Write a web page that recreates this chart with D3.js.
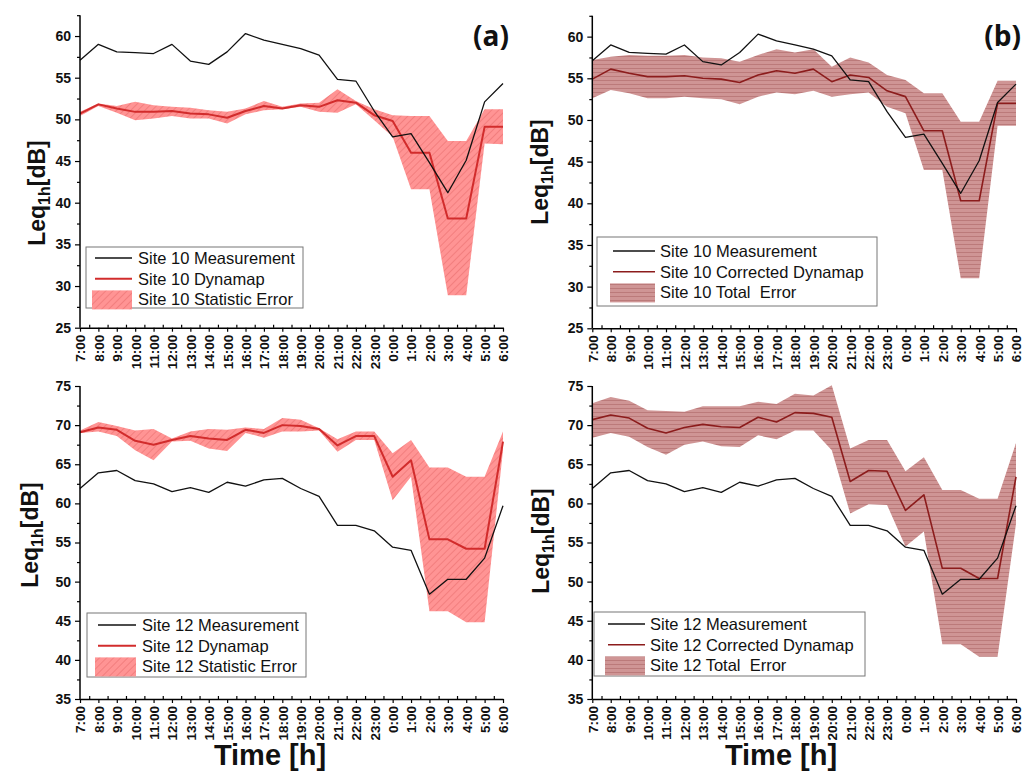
<!DOCTYPE html>
<html>
<head>
<meta charset="utf-8">
<script src="https://cdn.jsdelivr.net/npm/d3@7"></script>
<style>
  body { margin: 0; background: #fff; }
  svg { display: block; font-family: "Liberation Sans", Arial, sans-serif; }
</style>
</head>
<body>
<svg id="chart" width="1033" height="771"></svg>
<script>
// hours of the day, 7:00 -> 6:00 next morning
const hours = ["7:00","8:00","9:00","10:00","11:00","12:00","13:00","14:00","15:00","16:00","17:00","18:00",
  "19:00","20:00","21:00","22:00","23:00","0:00","1:00","2:00","3:00","4:00","5:00","6:00"]

// site 10
const site10Measured  = [57.1, 59.0, 58.1, 58.0, 57.9, 59.0, 57.0, 56.6, 58.1, 60.3, 59.5, 59.0, 58.5, 57.7, 54.8, 54.6, 51.0, 47.9, 48.3, 44.8, 41.2, 45.1, 52.1, 54.3]
const site10Dynamap   = [50.7, 51.8, 51.3, 50.9, 50.9, 51.0, 50.7, 50.6, 50.2, 51.0, 51.6, 51.3, 51.7, 51.5, 52.3, 52.0, 50.5, 49.8, 46.0, 46.0, 38.1, 38.1, 49.1, 49.1]
const site10StatLow   = [50.4, 51.6, 50.8, 49.9, 50.1, 50.4, 50.1, 50.1, 49.5, 50.6, 51.1, 51.2, 51.5, 50.9, 50.8, 51.8, 49.9, 47.9, 41.6, 41.6, 28.9, 28.9, 47.1, 47.0]
const site10StatHigh  = [50.9, 51.9, 51.6, 52.1, 51.7, 51.5, 51.4, 51.1, 50.9, 51.3, 52.2, 51.5, 51.9, 52.0, 53.6, 52.2, 51.2, 50.5, 50.4, 50.4, 47.4, 47.4, 51.2, 51.2]
const site10Corrected = [54.9, 56.1, 55.6, 55.2, 55.2, 55.3, 55.0, 54.9, 54.5, 55.4, 55.9, 55.6, 56.1, 54.6, 55.4, 55.1, 53.5, 52.8, 48.7, 48.7, 40.3, 40.3, 52.0, 52.0]
const site10TotalLow  = [52.6, 53.6, 53.2, 52.6, 52.6, 52.8, 52.6, 52.5, 51.9, 52.8, 53.3, 53.1, 53.5, 52.8, 53.1, 53.3, 51.6, 50.8, 44.0, 44.0, 31.0, 31.0, 49.3, 49.3]
const site10TotalHigh = [57.2, 57.6, 57.8, 57.7, 57.7, 57.8, 57.5, 57.4, 57.0, 57.8, 58.5, 58.1, 58.5, 56.4, 57.5, 56.9, 55.4, 54.8, 53.2, 53.2, 49.8, 49.8, 54.7, 54.7]

// site 12
const site12Measured  = [61.9, 63.9, 64.2, 62.9, 62.5, 61.5, 62.0, 61.4, 62.7, 62.2, 63.0, 63.2, 61.9, 60.9, 57.2, 57.2, 56.5, 54.4, 54.0, 48.4, 50.3, 50.3, 53.0, 59.7]
const site12Dynamap   = [69.1, 69.7, 69.4, 68.0, 67.5, 68.1, 68.6, 68.3, 68.1, 69.4, 69.0, 70.0, 69.9, 69.5, 67.4, 68.6, 68.6, 63.4, 65.5, 55.4, 55.4, 54.2, 54.2, 67.9]
const site12StatLow   = [69.0, 69.2, 68.6, 66.8, 65.5, 67.9, 68.0, 67.0, 66.7, 69.0, 68.4, 69.2, 69.2, 69.3, 66.6, 68.1, 68.1, 60.4, 63.4, 46.2, 46.2, 44.8, 44.8, 66.8]
const site12StatHigh  = [69.3, 70.4, 69.9, 69.3, 69.5, 68.3, 69.2, 69.5, 69.4, 69.7, 69.5, 70.9, 70.7, 69.6, 68.2, 69.2, 69.2, 66.4, 68.1, 64.6, 64.6, 63.4, 63.4, 69.2]
const site12Corrected = [70.7, 71.3, 70.9, 69.6, 69.0, 69.7, 70.1, 69.8, 69.7, 71.0, 70.4, 71.6, 71.5, 71.0, 62.8, 64.2, 64.1, 59.1, 61.1, 51.7, 51.7, 50.4, 50.4, 63.4]
const site12TotalLow  = [68.4, 69.0, 68.5, 67.2, 66.2, 67.5, 67.9, 67.3, 67.2, 68.7, 68.2, 69.3, 69.3, 66.8, 58.7, 59.9, 59.8, 54.5, 56.4, 42.0, 42.0, 40.4, 40.4, 57.4]
const site12TotalHigh = [72.8, 73.6, 73.1, 71.9, 71.8, 71.7, 72.4, 72.4, 72.4, 73.0, 72.7, 74.0, 73.8, 75.1, 67.0, 68.1, 68.1, 64.1, 65.9, 61.7, 61.7, 60.6, 60.6, 67.7]

const topTicks = [25, 30, 35, 40, 45, 50, 55, 60]
const bottomTicks = [35, 40, 45, 50, 55, 60, 65, 70, 75]

const svg = d3.select('#chart')
const defs = svg.append('defs')

// diagonal hatch for the statistic error (faint lines)
const statPat = defs.append('pattern')
  .attr('id', 'statHatch')
  .attr('patternUnits', 'userSpaceOnUse')
  .attr('width', 5).attr('height', 5)
  .attr('patternTransform', 'rotate(45)')
statPat.append('rect').attr('width', 5).attr('height', 5).attr('fill', '#ff9494')
statPat.append('line').attr('x1', 0.5).attr('y1', 0).attr('x2', 0.5).attr('y2', 5)
  .attr('stroke', '#f27e7e').attr('stroke-width', 1)

// horizontal lines for the total error
const totPat = defs.append('pattern')
  .attr('id', 'totHatch')
  .attr('patternUnits', 'userSpaceOnUse')
  .attr('width', 4).attr('height', 4)
totPat.append('rect').attr('width', 4).attr('height', 4).attr('fill', '#cf9595')
totPat.append('line').attr('x1', 0).attr('y1', 0.5).attr('x2', 4).attr('y2', 0.5)
  .attr('stroke', '#bb7a7a').attr('stroke-width', 1)

const panels = [
  { tag: '(a)', x0: 80, x1: 503, yr: [327.7, 15.2], dom: [25, 62.5], ticks: topTicks, site: 'Site 10',
    meas: site10Measured, model: site10Dynamap, low: site10StatLow, high: site10StatHigh,
    modelName: 'Dynamap', errName: 'Statistic Error', lineColor: '#d22c2c', lineW: 2, fill: 'url(#statHatch)',
    legend: [86, 247, 217, 61], lgLine: [95, 132], lgText: 138, lgBase: 264,
    label: [37, 193], tagPos: [509, 46] },
  { tag: '(b)', x0: 592.3, x1: 1016, yr: [328.3, 15.8], dom: [25, 62.5], ticks: topTicks, site: 'Site 10',
    meas: site10Measured, model: site10Corrected, low: site10TotalLow, high: site10TotalHigh,
    modelName: 'Corrected Dynamap', errName: 'Total  Error', lineColor: '#8c1c1c', lineW: 1.6, fill: 'url(#totHatch)',
    legend: [597, 237, 280, 69], lgLine: [613, 655], lgText: 660, lgBase: 257,
    label: [540, 172], tagPos: [1021, 46] },
  { tag: null, x0: 80, x1: 503, yr: [699, 386], dom: [35, 75], ticks: bottomTicks, site: 'Site 12',
    meas: site12Measured, model: site12Dynamap, low: site12StatLow, high: site12StatHigh,
    modelName: 'Dynamap', errName: 'Statistic Error', lineColor: '#d22c2c', lineW: 2, fill: 'url(#statHatch)',
    legend: [87, 613, 219, 64], lgLine: [98, 136], lgText: 142, lgBase: 631,
    label: [30, 535] },
  { tag: null, x0: 592.3, x1: 1016, yr: [699, 386], dom: [35, 75], ticks: bottomTicks, site: 'Site 12',
    meas: site12Measured, model: site12Corrected, low: site12TotalLow, high: site12TotalHigh,
    modelName: 'Corrected Dynamap', errName: 'Total  Error', lineColor: '#8c1c1c', lineW: 1.6, fill: 'url(#totHatch)',
    legend: [594, 612, 271, 64], lgLine: [608, 645], lgText: 650, lgBase: 630,
    label: [541, 541] }
]

panels.forEach(p => {
  const g = svg.append('g')
  const x = d3.scaleLinear().domain([0, hours.length - 1]).range([p.x0, p.x1])
  const y = d3.scaleLinear().domain(p.dom).range(p.yr)
  const idx = d3.range(hours.length)

  // error band
  const area = d3.area()
    .x(i => x(i))
    .y0(i => y(p.low[i]))
    .y1(i => y(p.high[i]))
  g.append('path').datum(idx)
    .attr('d', area)
    .attr('fill', p.fill)

  const line = vals => d3.line().x(i => x(i)).y(i => y(vals[i]))(idx)

  g.append('path')
    .attr('d', line(p.model))
    .attr('fill', 'none')
    .attr('stroke', p.lineColor)
    .attr('stroke-width', p.lineW)
    .attr('stroke-linejoin', 'round')

  g.append('path')
    .attr('d', line(p.meas))
    .attr('fill', 'none')
    .attr('stroke', '#111')
    .attr('stroke-width', 1.3)
    .attr('stroke-linejoin', 'round')

  // y axis
  const yAx = g.append('g').attr('transform', `translate(${p.x0},0)`)
    .call(d3.axisLeft(y).tickValues(p.ticks).tickSize(5).tickSizeOuter(0).tickPadding(4))
  const minorY = p.ticks.slice(0, -1).map(v => v + 2.5)
  if (p.dom[1] > p.ticks[p.ticks.length - 1]) minorY.push(p.ticks[p.ticks.length - 1] + 2.5)
  g.append('g').attr('transform', `translate(${p.x0},0)`)
    .call(d3.axisLeft(y).tickValues(minorY).tickSize(3).tickFormat(''))
    .call(s => s.select('.domain').remove())
  // the axis line spans the whole domain
  yAx.select('.domain').attr('d', `M0,${p.yr[0]}V${p.yr[1]}`)

  // x axis
  const xAx = g.append('g').attr('transform', `translate(0,${p.yr[0]})`)
    .call(d3.axisBottom(x).tickValues(idx).tickSize(4).tickSizeOuter(0).tickFormat(i => hours[i]))
  xAx.selectAll('text')
    .attr('transform', 'rotate(-90)')
    .attr('text-anchor', 'end')
    .attr('x', -7)
    .attr('y', 0)
    .attr('dy', '0.36em')
  g.append('g').attr('transform', `translate(0,${p.yr[0]})`)
    .call(d3.axisBottom(x).tickValues(d3.range(0.5, hours.length - 1, 1)).tickSize(-3).tickFormat(''))
    .call(s => s.select('.domain').remove())

  g.selectAll('.domain').attr('stroke', '#000').attr('stroke-width', 1.5)
  g.selectAll('.tick line').attr('stroke', '#000').attr('stroke-width', 1.2)
  g.selectAll('.tick text')
    .attr('font-family', '"Liberation Sans", Arial, sans-serif')
    .attr('font-weight', 'bold')
    .attr('fill', '#111')
  yAx.selectAll('.tick text').attr('font-size', 14)
  xAx.selectAll('.tick text').attr('font-size', 13.5)

  // y label Leq1h[dB]
  const lab = g.append('text')
    .attr('transform', `translate(${p.label[0]},${p.label[1]}) rotate(-90)`)
    .attr('text-anchor', 'middle')
    .attr('dy', '0.36em')
    .attr('font-size', 23)
    .attr('font-weight', 'bold')
    .attr('fill', '#111')
  lab.append('tspan').text('Leq')
  lab.append('tspan').attr('font-size', 16).attr('dy', 5).text('1h')
  lab.append('tspan').attr('dy', -5).text('[dB]')

  if (p.tag) {
    g.append('text')
      .attr('x', p.tagPos[0]).attr('y', p.tagPos[1])
      .attr('text-anchor', 'end')
      .attr('font-family', '"Open Sans", sans-serif')
      .attr('font-weight', 'bold')
      .attr('font-size', 28)
      .attr('fill', '#111')
      .text(p.tag)
  }

  // legend
  const lg = g.append('g')
  lg.append('rect')
    .attr('x', p.legend[0]).attr('y', p.legend[1])
    .attr('width', p.legend[2]).attr('height', p.legend[3])
    .attr('fill', '#fff')
    .attr('stroke', '#777')
    .attr('stroke-width', 1)
  const rows = [
    { name: p.site + ' Measurement', kind: 'line', color: '#111', w: 1.3 },
    { name: p.site + ' ' + p.modelName, kind: 'line', color: p.lineColor, w: p.lineW },
    { name: p.site + ' ' + p.errName, kind: 'box' }
  ]
  const rowH = 20.7
  rows.forEach((r, i) => {
    const by = p.lgBase + i * rowH
    if (r.kind === 'line') {
      lg.append('line')
        .attr('x1', p.lgLine[0]).attr('x2', p.lgLine[1])
        .attr('y1', by - 6).attr('y2', by - 6)
        .attr('stroke', r.color).attr('stroke-width', r.w)
    } else {
      lg.append('rect')
        .attr('x', p.lgLine[0] - 3).attr('y', by - 15)
        .attr('width', p.lgLine[1] - p.lgLine[0] + 3).attr('height', 19)
        .attr('fill', p.fill)
    }
    lg.append('text')
      .attr('x', p.lgText).attr('y', by)
      .attr('font-size', 16.5)
      .attr('fill', '#111')
      .text(r.name.replace(/  /g, '\u00a0 '))
  })
})

// common x title under each column
;[270, 781].forEach(cx => {
  svg.append('text')
    .attr('x', cx).attr('y', 765)
    .attr('text-anchor', 'middle')
    .attr('font-size', 29)
    .attr('font-weight', 'bold')
    .attr('fill', '#111')
    .text('Time [h]')
})
</script>
</body>
</html>
